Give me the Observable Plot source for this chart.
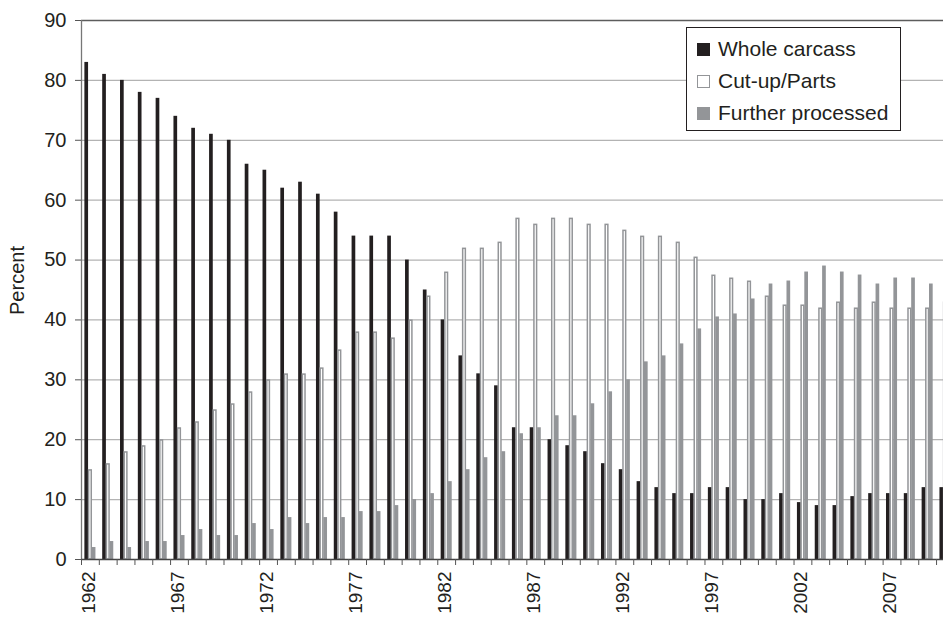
<!DOCTYPE html>
<html>
<head>
<meta charset="utf-8">
<script src="https://cdn.jsdelivr.net/npm/d3@7"></script>
<script src="https://cdn.jsdelivr.net/npm/@observablehq/plot@0.6"></script>
<style>
  html, body { margin: 0; padding: 0; background: #fff; overflow: hidden; }
  #wrap { position: relative; width: 943px; height: 617px; font-family: "Liberation Sans", Arial, sans-serif; color: #231f20; }
  #legend { position: absolute; left: 686px; top: 27px; width: 213px; height: 102px; border: 1px solid #231f20; background: #fff; box-sizing: content-box; }
  .row { position: absolute; left: 0; height: 32px; display: flex; align-items: center; font-size: 21px; white-space: nowrap; }
  .sw { width: 13px; height: 13px; margin-left: 10px; margin-right: 8px; box-sizing: border-box; }
</style>
</head>
<body>
<div id="wrap"><div id="legend"></div></div>
<script>
// ---- data ----
const years = [1962,1963,1964,1965,1966,1967,1968,1969,1970,1971,
               1972,1973,1974,1975,1976,1977,1978,1979,1980,1981,
               1982,1983,1984,1985,1986,1987,1988,1989,1990,1991,
               1992,1993,1994,1995,1996,1997,1998,1999,2000,2001,
               2002,2003,2004,2005,2006,2007,2008,2009,2010];
const wholeCarcass = [83,81,80,78,77,74,72,71,70,66,
                      65,62,63,61,58,54,54,54,50,45,
                      40,34,31,29,22,22,20,19,18,16,
                      15,13,12,11,11,12,12,10,10,11,
                      9.5,9,9,10.5,11,11,11,12,12];
const cutUpParts = [15,16,18,19,20,22,23,25,26,28,
                    30,31,31,32,35,38,38,37,40,44,
                    48,52,52,53,57,56,57,57,56,56,
                    55,54,54,53,50.5,47.5,47,46.5,44,42.5,
                    42.5,42,43,42,43,42,42,42,43];
const furtherProcessed = [2,3,2,3,3,4,5,4,4,6,
                          5,7,6,7,7,8,8,9,10,11,
                          13,15,17,18,21,22,24,24,26,28,
                          30,33,34,36,38.5,40.5,41,43.5,46,46.5,
                          48,49,48,47.5,46,47,47,46,null];
const seriesNames = ["Whole carcass", "Cut-up/Parts", "Further processed"];
const yTicks = [0,10,20,30,40,50,60,70,80,90];
const labelYears = [1962,1967,1972,1977,1982,1987,1992,1997,2002,2007];

// ---- styling ----
const BLACK = "#231f20", GRAY = "#939598";
const seriesValues = [wholeCarcass, cutUpParts, furtherProcessed];
const rows = [];
seriesValues.forEach((vals, i) => years.forEach((yr, j) => {
  if (vals[j] != null) rows.push({year: yr, series: seriesNames[i], i, value: vals[j]});
}));
const barW = 0.207, pad = 0.19;
const bx1 = d => d.year + pad + d.i * barW;
const bx2 = d => d.year + pad + (d.i + 1) * barW;
const xEnd = 2010.39;
const bounds = years.filter(y => y <= xEnd);

const chart = Plot.plot({
  width: 943, height: 617,
  marginLeft: 81, marginRight: 0, marginTop: 20, marginBottom: 58,
  style: {fontFamily: "'Liberation Sans', Arial, sans-serif", color: BLACK, background: "#fff", overflow: "hidden"},
  x: {type: "linear", domain: [1962, xEnd]},
  y: {domain: [0, 90]},
  marks: [
    Plot.ruleY(yTicks.filter(t => t > 0 && t < 90), {stroke: "#b3b3b3", strokeWidth: 1.2}),
    Plot.ruleY([90], {stroke: "#5c5c5c", strokeWidth: 1.3}),
    Plot.rectY(rows.filter(d => d.i === 0), {x1: bx1, x2: bx2, y1: 0, y2: "value", fill: BLACK, clip: true}),
    Plot.rectY(rows.filter(d => d.i === 1), {x1: bx1, x2: bx2, y1: 0, y2: "value", fill: "#fff", stroke: GRAY, strokeWidth: 1.5, insetLeft: 0.5, insetRight: 0.5, insetTop: 0.75, clip: true}),
    Plot.rectY(rows.filter(d => d.i === 2), {x1: bx1, x2: bx2, y1: 0, y2: "value", fill: GRAY, clip: true}),
    Plot.ruleX([1962], {stroke: "#777", strokeWidth: 1.3}),
    Plot.ruleY([0], {stroke: "#444", strokeWidth: 1.3}),
    Plot.axisY({ticks: yTicks, tickSize: 6, tickPadding: 9, fontSize: 20, stroke: "#555", label: null, tickFormat: d => String(d)}),
    Plot.axisX({ticks: bounds, tickSize: 6, tickFormat: () => "", stroke: "#555", label: null}),
    Plot.axisX({ticks: labelYears.map(y => y + 0.4), tickSize: 0, tickPadding: 12, tickRotate: -90, fontSize: 19, label: null, tickFormat: d => String(Math.round(d - 0.4))}),
    Plot.text(["Percent"], {frameAnchor: "left", textAnchor: "middle", dx: -64, dy: -9.5, rotate: -90, fontSize: 20, fill: BLACK})
  ]
});
document.getElementById("wrap").prepend(chart);

// ---- legend ----
const legendStyles = [
  {fill: BLACK, border: "none"},
  {fill: "#fff", border: "1.5px solid " + GRAY},
  {fill: GRAY, border: "none"}
];
const legend = d3.select("#legend");
seriesNames.forEach((name, i) => {
  const row = legend.append("div").attr("class", "row").style("top", (5 + i * 32) + "px");
  row.append("div").attr("class", "sw")
    .style("background", legendStyles[i].fill)
    .style("border", legendStyles[i].border);
  row.append("span").text(name);
});
</script>
</body>
</html>
